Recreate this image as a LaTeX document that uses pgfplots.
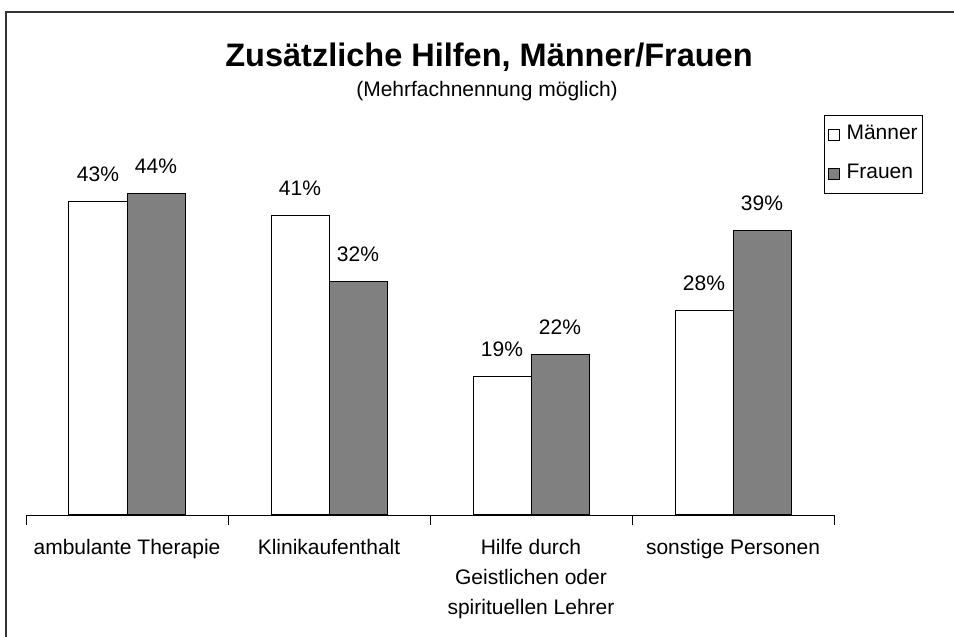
\documentclass[border=0pt]{standalone}
\usepackage{pgfplots}
\pgfplotsset{compat=1.18}
\usepackage{fontspec}
\setmainfont{Liberation Sans}
\definecolor{barg}{RGB}{128,128,128}
\begin{document}
\begin{tikzpicture}[x=1pt,y=1pt]
\useasboundingbox (0,0) rectangle (954,637);
\draw[line width=1.8pt, black!80] (6,0) -- (6,625) -- (954,625);
\node[anchor=base, inner sep=0pt, font=\fontsize{32.5}{36}\selectfont\bfseries] at (489,570) {Zusätzliche Hilfen, Männer/Frauen};
\node[anchor=base, inner sep=0pt, font=\fontsize{21}{25}\selectfont] at (487,540.5) {(Mehrfachnennung möglich)};
\begin{axis}[
  at={(26pt,122pt)}, anchor=south west, scale only axis,
  width=808pt, height=365pt,
  xmin=0, xmax=4, ymin=0, ymax=50,
  axis x line*=bottom, axis y line=none,
  x axis line style={line width=0.8pt},
  ybar=0pt, bar width=58pt,
  clip=false,
  /pgf/number format/assume math mode=true,
  xtick={0.5,1.5,2.5,3.5},
  xticklabels={ambulante Therapie, Klinikaufenthalt, {Hilfe durch\\Geistlichen oder\\spirituellen Lehrer}, sonstige Personen},
  major tick length=0pt,
  minor xtick={0,1,2,3,4},
  minor tick length=10pt,
  tick align=outside,
  tick style={line width=0.8pt, black},
  xticklabel style={font=\fontsize{21}{30}\selectfont, align=center, inner sep=0pt, yshift=-24pt},
  ytick=\empty,
  nodes near coords={\pgfmathprintnumber{\pgfplotspointmeta}\%},
  every node near coord/.append style={font=\fontsize{21}{25}\selectfont, anchor=base, inner sep=0pt, yshift=20pt},
  legend style={at={(0.988,1.097)}, anchor=north west, draw=black, line width=0.8pt,
    font=\fontsize{21}{25}\selectfont, inner xsep=3pt, inner ysep=8pt, row sep=16pt,
    nodes={inner sep=2pt, text height=15pt, text depth=4pt},
    /tikz/every odd column/.append style={column sep=5pt},
    /tikz/every even column/.append style={column sep=4pt}},
  legend cell align=left,
]
\addplot[fill=white, draw=black, line width=1pt,
  legend image code/.code={\draw[fill=white, draw=black, line width=0.8pt] (0pt,-5.5pt) rectangle (11pt,5.5pt);}]
  coordinates {(0.5,43) (1.5,41) (2.5,19) (3.5,28)};
\addplot[fill=barg, draw=black, line width=1pt,
  legend image code/.code={\draw[fill=barg, draw=black, line width=0.8pt] (0pt,-5.5pt) rectangle (11pt,5.5pt);}]
  coordinates {(0.5,44) (1.5,32) (2.5,22) (3.5,39)};
\legend{Männer, Frauen}
\end{axis}
\end{tikzpicture}
\end{document}
